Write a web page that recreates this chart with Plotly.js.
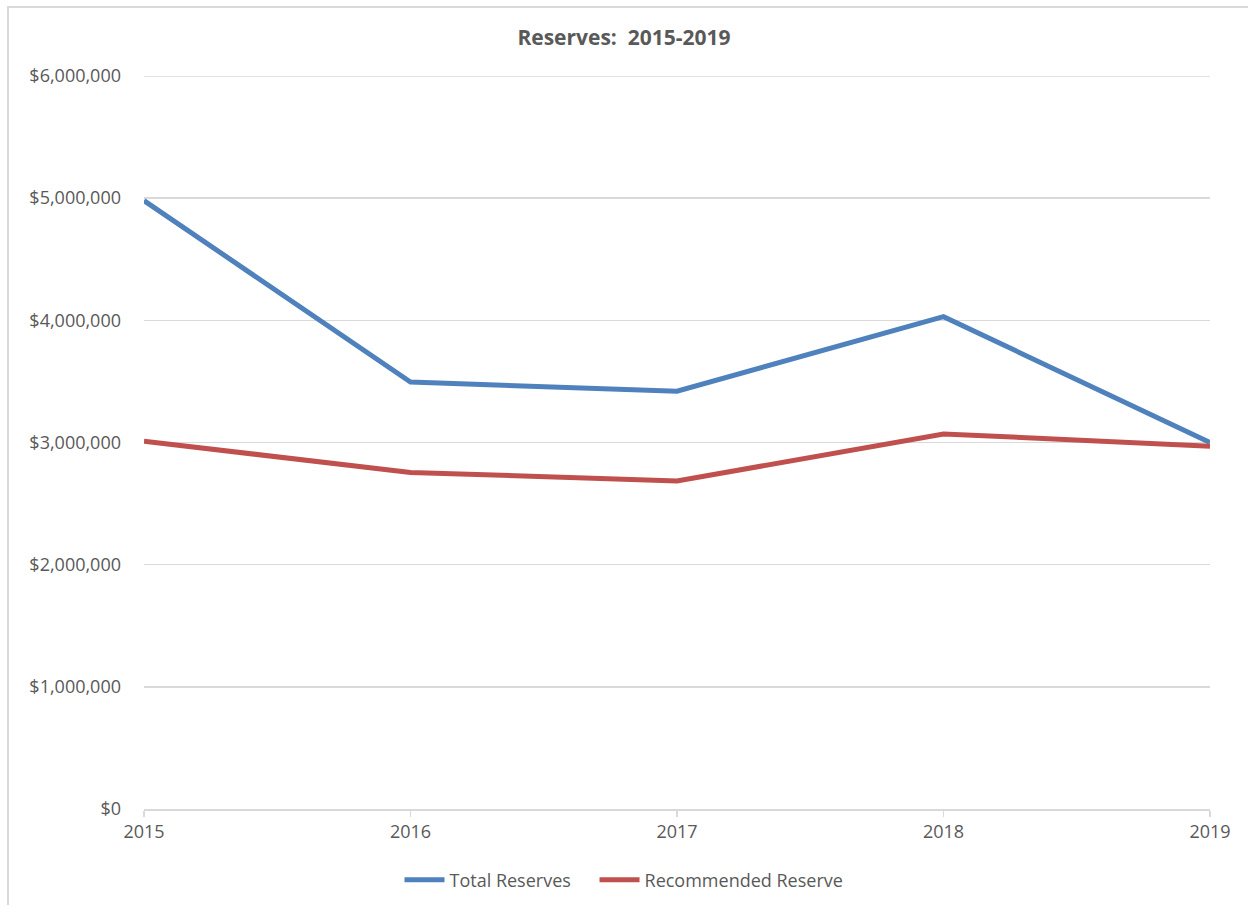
<!DOCTYPE html>
<html>
<head>
<meta charset="utf-8">
<script src="https://cdn.plot.ly/plotly-3.0.1.min.js"></script>
<style>
  html, body { margin: 0; padding: 0; background: #fff; }
  #frame { position: absolute; left: 7px; top: 6px; width: 1260px; height: 920px; border-left: 2px solid #D9D9D9; border-top: 2px solid #D9D9D9; }
  #chart { position: absolute; left: 0; top: 0; width: 1248px; height: 905px; }
</style>
</head>
<body>
<div id="frame"></div>
<div id="chart"></div>
<script>
const years = ["2015", "2016", "2017", "2018", "2019"];
const totalReserves = [4980000, 3495000, 3420000, 4030000, 3000000];
const recommendedReserve = [3010000, 2755000, 2685000, 3070000, 2970000];
const yTicks = [0, 1000000, 2000000, 3000000, 4000000, 5000000, 6000000];
const seriesNames = ["Total Reserves", "Recommended Reserve"];

const font = "Open Sans, Noto Sans, sans-serif";
const pad = "\u00a0\u00a0\u00a0\u00a0";

const traces = [
  { x: years, y: totalReserves, name: seriesNames[0] + pad, type: "scatter", mode: "lines",
    line: { color: "#4F81BD", width: 5 } },
  { x: years, y: recommendedReserve, name: seriesNames[1], type: "scatter", mode: "lines",
    line: { color: "#C0504D", width: 5 } }
];

const layout = {
  width: 1248, height: 905,
  paper_bgcolor: "rgba(0,0,0,0)", plot_bgcolor: "rgba(0,0,0,0)",
  margin: { l: 144, r: 38, t: 76, b: 96 },
  font: { family: font, color: "#595959", size: 18 },
  title: { text: "<b>Reserves:  2015-2019</b>", x: 0.5, xanchor: "center", y: 0.958, yanchor: "middle",
           font: { family: font, size: 21, color: "#595959" } },
  xaxis: {
    type: "category", range: [0, 4],
    showgrid: false, showline: true, linecolor: "#D9D9D9", linewidth: 1.5,
    ticks: "outside", ticklen: 6, tickcolor: "#D9D9D9", tickwidth: 1.5,
    tickfont: { family: font, size: 18, color: "#595959" },
    zeroline: false, fixedrange: true, automargin: false
  },
  yaxis: {
    range: [0, 6000000], tickvals: yTicks, tickformat: "$,.0f",
    showgrid: true, gridcolor: "#D9D9D9", gridwidth: 1.5,
    showline: false, zeroline: false, ticks: "", ticklabelstandoff: 22,
    tickfont: { family: font, size: 18, color: "#595959" }, fixedrange: true, automargin: false
  },
  shapes: [
    { type: "line", xref: "paper", yref: "y", x0: 0, x1: 1, y0: yTicks[yTicks.length - 1], y1: yTicks[yTicks.length - 1],
      line: { color: "#D9D9D9", width: 1.5 }, layer: "below" }
  ],
  showlegend: true,
  legend: { orientation: "h", xref: "container", yref: "container", x: 0.5, xanchor: "center",
            y: 25 / 905, yanchor: "middle",
            font: { family: font, size: 18, color: "#595959" }, itemwidth: 40, tracegroupgap: 0 }
};

Plotly.newPlot("chart", traces, layout, { displayModeBar: false, staticPlot: true });
</script>
</body>
</html>
